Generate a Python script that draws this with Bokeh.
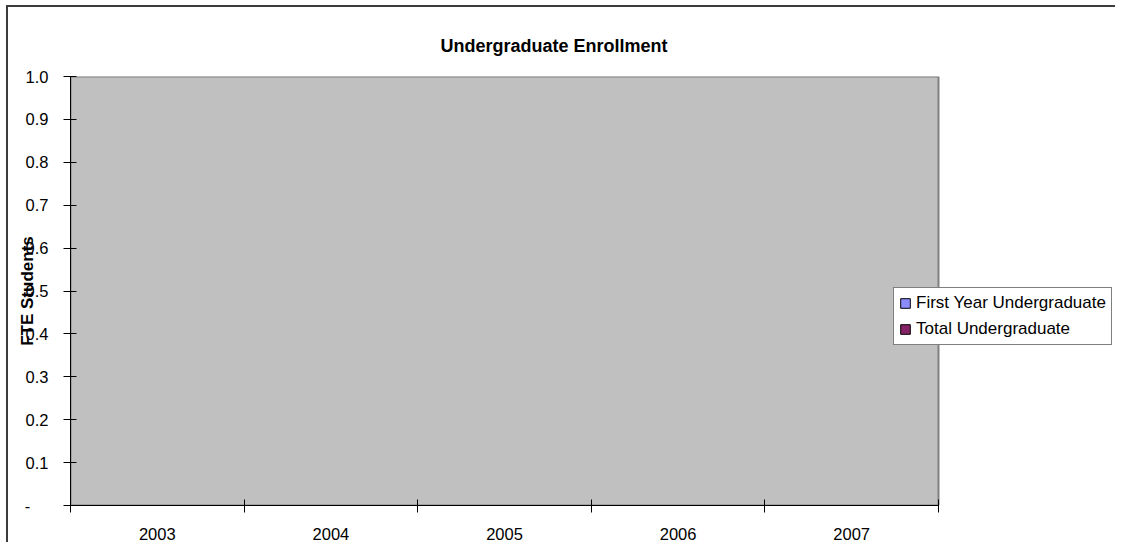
from bokeh.plotting import figure
from bokeh.models import (Range1d, FixedTicker, CustomJSTickFormatter, Legend, LegendItem)
from bokeh.embed import file_html
from bokeh.resources import INLINE

# ---- data ----
years = ["2003", "2004", "2005", "2006", "2007"]
first_year = [0, 0, 0, 0, 0]
total = [0, 0, 0, 0, 0]
y_ticks = [0.0, 0.1, 0.2, 0.3, 0.4, 0.5, 0.6, 0.7, 0.8, 0.9, 1.0]
series_names = ["First Year Undergraduate", "Total Undergraduate"]
series_colors = ["#8c8cff", "#862366"]

FONT = "Liberation Sans"

n = len(years)
y_min, y_max = y_ticks[0], y_ticks[-1]
centers = [i + 0.5 for i in range(n)]
edges = list(range(n + 1))

# layout (pixels)
W, H = 1115, 542
LEFT, TOP, BOTTOM = 70, 76, 33
AREA_W = 868                     # width of the grey plot area
frame_w = W - LEFT
x_end = n * frame_w / AREA_W     # frame extends right of the grey area to host the legend

p = figure(x_range=Range1d(0, x_end), y_range=Range1d(y_min, y_max),
           width=W, height=H, output_backend="svg", toolbar_location=None,
           min_border_left=LEFT, min_border_right=0, min_border_top=TOP, min_border_bottom=BOTTOM,
           background_fill_color="white", border_fill_alpha=0, background_fill_alpha=0,
           outline_line_color=None)
p.styles = {"background": "linear-gradient(#3c3c3c,#3c3c3c) 6px 5px / 100% 2px no-repeat, "
                          "linear-gradient(#3c3c3c,#3c3c3c) 6px 5px / 2px 100% no-repeat, #ffffff"}

p.xgrid.visible = False
p.ygrid.visible = False

# grey plot area spanning the categories
p.quad(left=[0], right=[n], bottom=[y_min], top=[y_max],
       fill_color="#C0C0C0", line_color="#808080", line_width=2)

# title
p.title.text = "Undergraduate Enrollment"
p.title.align = "left"
p.title.offset = 370
p.title.standoff = 41
p.title.text_font = FONT
p.title.text_font_size = "18px"
p.title.text_font_style = "bold"
p.title.text_color = "black"

# bars (all values are zero in the source chart)
src = dict(x1=[c - 0.17 for c in centers], x2=[c + 0.17 for c in centers],
           first=first_year, total=total)
r1 = p.vbar(x="x1", top="first", width=0.3, source=src,
            fill_color=series_colors[0], line_color="black")
r2 = p.vbar(x="x2", top="total", width=0.3, source=src,
            fill_color=series_colors[1], line_color="black")

# y axis
ya = p.yaxis[0]
ya.ticker = FixedTicker(ticks=y_ticks)
ya.formatter = CustomJSTickFormatter(code="return tick == 0 ? '-\u00a0\u00a0\u00a0\u00a0' : tick.toFixed(1);")
ya.major_tick_in = 6
ya.major_tick_out = 7
ya.minor_tick_line_color = None
ya.major_label_standoff = 15
ya.major_label_text_font = FONT
ya.major_label_text_font_size = "16.5px"
ya.major_label_text_color = "black"
ya.axis_line_color = "black"
ya.major_tick_line_color = "black"
ya.axis_label = "FTE Students"
ya.axis_label_text_font = FONT
ya.axis_label_text_font_size = "17px"
ya.axis_label_text_font_style = "bold"
ya.axis_label_text_color = "black"
ya.axis_label_standoff = -15

# x axis: labels at category centres, tick marks at category edges
xa = p.xaxis[0]
xa.bounds = (0, n)
xa.ticker = FixedTicker(ticks=centers, minor_ticks=edges)
xa.formatter = CustomJSTickFormatter(args=dict(labels=years),
                                     code="const i = Math.floor(tick); return labels[i] ?? '';")
xa.major_tick_line_color = None
xa.major_tick_in = 0
xa.major_tick_out = 0
xa.minor_tick_in = 6
xa.minor_tick_out = 7
xa.minor_tick_line_color = "black"
xa.axis_line_color = "black"
xa.major_label_standoff = 15
xa.major_label_text_font = FONT
xa.major_label_text_font_size = "16.5px"
xa.major_label_text_color = "black"

legend = Legend(items=[LegendItem(label=series_names[0], renderers=[r1]),
                       LegendItem(label=series_names[1], renderers=[r2])],
                location=(823, 160), border_line_color="black", border_line_width=1,
                background_fill_color="white", background_fill_alpha=1,
                label_text_font=FONT, label_text_font_size="17px", label_text_color="black",
                glyph_width=12, glyph_height=12, label_standoff=5, spacing=6,
                padding=5, margin=0, label_height=20, label_width=190)
p.add_layout(legend, "center")

open("out.html", "w").write(file_html(p, INLINE))
